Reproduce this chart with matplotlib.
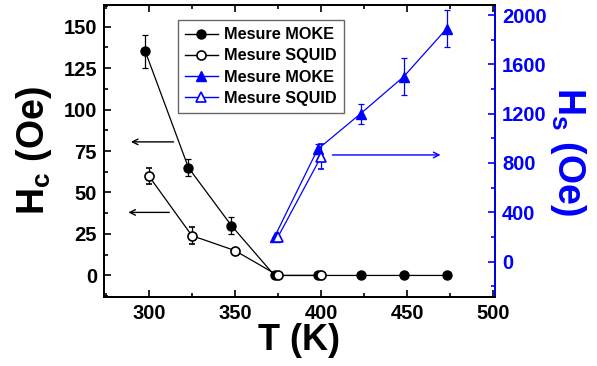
import matplotlib
matplotlib.use('Agg')
import matplotlib.pyplot as plt
from matplotlib.ticker import MultipleLocator
from matplotlib.lines import Line2D

plt.rcParams['font.family'] = ['Liberation Sans', 'DejaVu Sans']
plt.rcParams['font.weight'] = 'bold'
plt.rcParams['axes.labelweight'] = 'bold'
plt.rcParams['mathtext.fontset'] = 'custom'
plt.rcParams['mathtext.rm'] = 'Liberation Sans:bold'
plt.rcParams['mathtext.it'] = 'Liberation Sans:bold'
plt.rcParams['mathtext.bf'] = 'Liberation Sans:bold'

# Hc data (left axis)
t_hc_moke = [298, 323, 348, 373, 398, 423, 448, 473]
hc_moke = [135, 65, 30, 0, 0, 0, 0, 0]
hc_moke_err = [10, 5, 5, 0, 0, 0, 0, 0]
t_hc_squid = [300, 325, 350, 375, 400]
hc_squid = [60, 24, 15, 0, 0]
hc_squid_err = [5, 5, 0, 0, 0]

# Hs data (right axis)
t_hs_moke = [373, 398, 423, 448, 473]
hs_moke = [200, 910, 1200, 1500, 1890]
hs_moke_err = [0, 40, 80, 150, 150]
t_hs_squid = [375, 400]
hs_squid = [200, 850]
hs_squid_err = [0, 100]

blue = '#0000ff'
eb = dict(lw=0.9, capsize=2.5, elinewidth=0.9, capthick=0.9)

fig = plt.figure(figsize=(5.97, 3.66), dpi=100)
ax = fig.add_axes([0.1742, 0.1885, 0.6549, 0.7978])
ax2 = ax.twinx()

ax.errorbar(t_hc_moke, hc_moke, yerr=hc_moke_err, color='black', marker='o', ms=6.5, **eb)
ax.errorbar(t_hc_squid, hc_squid, yerr=hc_squid_err, color='black', marker='o', ms=6.5,
            mfc='white', mew=1.2, **eb)
ax2.errorbar(t_hs_moke, hs_moke, yerr=hs_moke_err, color=blue, marker='^', ms=7.5, **eb)
ax2.errorbar(t_hs_squid, hs_squid, yerr=hs_squid_err, color=blue, marker='^', ms=7.5,
             mfc='white', mew=1.2, **eb)

ax.set_xlim(274, 501)
ax.set_ylim(-13, 163)
ax2.set_ylim(-287, 2081)

ax.xaxis.set_major_locator(MultipleLocator(50))
ax.xaxis.set_minor_locator(MultipleLocator(25))
ax.yaxis.set_major_locator(MultipleLocator(25))
ax.yaxis.set_minor_locator(MultipleLocator(12.5))
ax2.yaxis.set_major_locator(MultipleLocator(400))
ax2.yaxis.set_minor_locator(MultipleLocator(200))

ax.tick_params(which='both', direction='in', top=True, labelsize=14.5, width=1.2, pad=5)
ax.tick_params(which='major', length=5)
ax.tick_params(which='minor', length=3)
ax.tick_params(axis='y', right=False)
ax2.tick_params(which='both', direction='in', colors=blue, labelsize=14.5, width=1.2, pad=5)
ax2.tick_params(which='major', length=5)
ax2.tick_params(which='minor', length=3)

for s in ax.spines.values():
    s.set_linewidth(1.3)
for s in ax2.spines.values():
    s.set_linewidth(1.3)
ax2.spines['right'].set_color(blue)

ax.set_xlabel('T (K)', fontsize=26, fontweight='bold', labelpad=0)
ax.set_ylabel(r'H$_\mathregular{c}$ (Oe)', fontsize=27, fontweight='bold', labelpad=7)
ax2.set_ylabel(r'H$_\mathregular{s}$ (Oe)', fontsize=27, fontweight='bold', color=blue,
               rotation=270, labelpad=30)

# arrows pointing to each axis
ax.annotate('', xy=(288, 80.5), xytext=(316, 80.5),
            arrowprops=dict(arrowstyle='->', color='black', lw=1))
ax.annotate('', xy=(286.5, 38), xytext=(313.5, 38),
            arrowprops=dict(arrowstyle='->', color='black', lw=1))
ax2.annotate('', xy=(471, 865), xytext=(405, 865),
             arrowprops=dict(arrowstyle='->', color=blue, lw=1))

handles = [
    Line2D([], [], color='black', marker='o', ms=6.5, lw=1),
    Line2D([], [], color='black', marker='o', ms=6.5, mfc='white', mew=1.2, lw=1),
    Line2D([], [], color=blue, marker='^', ms=7.5, lw=1),
    Line2D([], [], color=blue, marker='^', ms=7.5, mfc='white', mew=1.2, lw=1),
]
leg = ax2.legend(handles, ['Mesure MOKE', 'Mesure SQUID', 'Mesure MOKE', 'Mesure SQUID'],
                 loc='upper left', bbox_to_anchor=(0.189, 0.949), borderaxespad=0,
                 prop=dict(size=11.7, weight='bold'), fancybox=False, edgecolor='0.4',
                 framealpha=1, handlelength=2.0, handletextpad=0.4, labelspacing=0.38,
                 borderpad=0.45)
leg.get_frame().set_linewidth(1)

fig.canvas.draw()
for lab in ax.get_xticklabels() + ax.get_yticklabels() + ax2.get_yticklabels():
    lab.set_fontweight('bold')

fig.savefig('out.png', dpi=100)
